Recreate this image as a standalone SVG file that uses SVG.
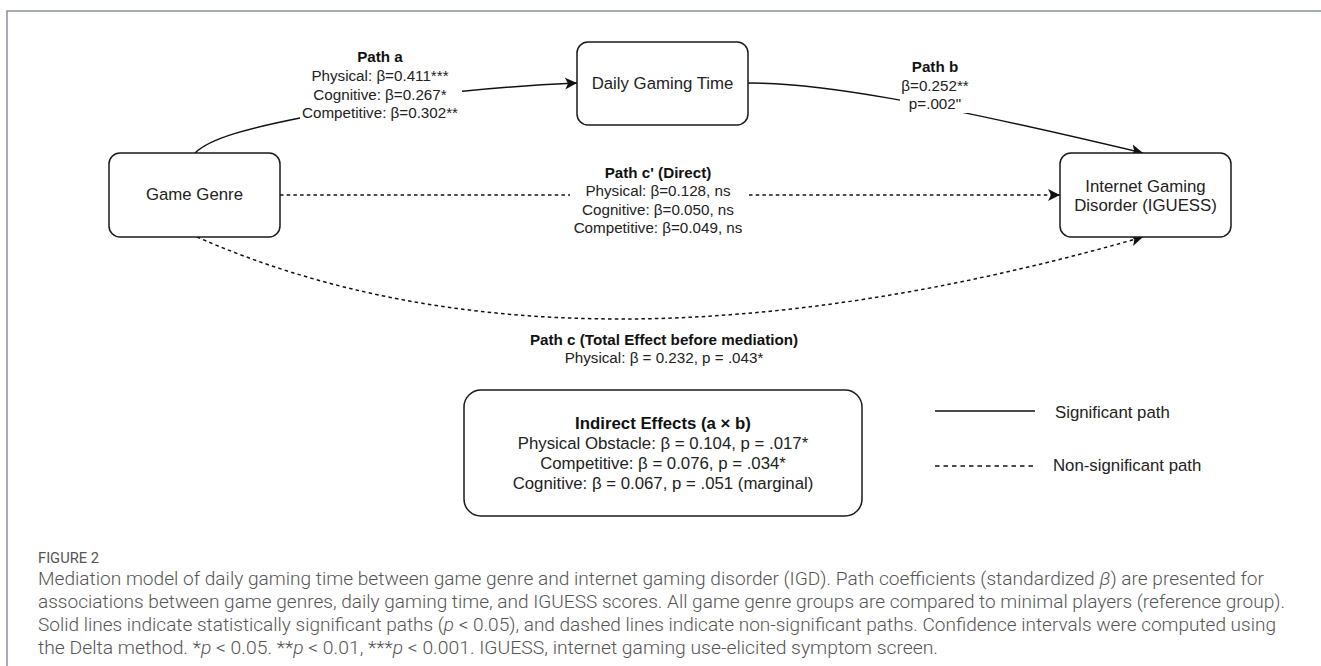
<svg xmlns="http://www.w3.org/2000/svg" width="1321" height="666" viewBox="0 0 1321 666">
<defs>
<style>
.frame{fill:none;stroke:#8a909a;stroke-width:1.5}
.box{fill:#fff;stroke:#1a1a1a;stroke-width:1.5}
.nt{font-family:"Liberation Sans",Arial,sans-serif;font-size:16.8px;fill:#222;text-anchor:middle}
.lt{font-family:"Liberation Sans",Arial,sans-serif;font-size:15.2px;fill:#222;text-anchor:middle}
.b{font-weight:bold;fill:#111}
.edge{fill:none;stroke:#111;stroke-width:1.5}
.dash{stroke-dasharray:3.5 3.2}
.ldash{stroke-dasharray:4.5 4}
.bg{fill:#fff}
.cap{font-family:Roboto,"Liberation Sans",sans-serif;font-weight:300;font-size:18.5px;fill:#555}
.fig{font-family:Roboto,"Liberation Sans",sans-serif;font-weight:400;font-size:14px;fill:#555}
.it{font-style:italic}
</style>
<marker id="arr" markerUnits="userSpaceOnUse" markerWidth="14" markerHeight="14" viewBox="0 0 14 14" refX="12" refY="7" orient="auto">
<path d="M0,1 L12,7 L0,13 L3,7 Z" fill="#111" stroke="none"/>
</marker>
</defs>
<rect x="0" y="0" width="1321" height="666" fill="#fff"/>
<rect class="frame" x="7" y="11" width="1340" height="700"/>

<g id="connectors">
<path id="path-a" class="edge" d="M195,153 C210,138 250,128 300,118 S420,90 577,83" marker-end="url(#arr)"/>
<path id="path-b" class="edge" d="M748,83 C820,83 920,100 1143,153" marker-end="url(#arr)"/>
<path id="path-cprime" class="edge dash" d="M280,195 L1060,195" marker-end="url(#arr)"/>
<path id="path-c" class="edge dash" d="M197,237 Q570,401 1143,237" marker-end="url(#arr)"/>
<rect class="bg" x="300" y="47" width="162" height="74"/>
<text class="lt"><tspan class="b" x="380" y="62">Path a</tspan><tspan x="380" y="81">Physical: β=0.411***</tspan><tspan x="380" y="99.5">Cognitive: β=0.267*</tspan><tspan x="380" y="118">Competitive: β=0.302**</tspan></text>
<rect class="bg" x="900" y="57" width="69" height="56"/>
<text class="lt"><tspan class="b" x="935" y="72">Path b</tspan><tspan x="935" y="91">β=0.252**</tspan><tspan x="935" y="109">p=.002"</tspan></text>
<rect class="bg" x="570" y="162" width="178" height="76"/>
<text class="lt"><tspan class="b" x="658" y="177.5">Path c' (Direct)</tspan><tspan x="658" y="196">Physical: β=0.128, ns</tspan><tspan x="658" y="214.5">Cognitive: β=0.050, ns</tspan><tspan x="658" y="233">Competitive: β=0.049, ns</tspan></text>
<text class="lt"><tspan class="b" x="664" y="345">Path c (Total Effect before mediation)</tspan><tspan x="664" y="363">Physical: β = 0.232, p = .043*</tspan></text>
</g>

<g id="node-game-genre">
<rect class="box" x="109" y="153" width="171" height="84" rx="11"/>
<text class="nt" x="194.5" y="200">Game Genre</text>
</g>
<g id="node-daily-gaming-time">
<rect class="box" x="577" y="42" width="171" height="83" rx="11"/>
<text class="nt" x="662.5" y="89">Daily Gaming Time</text>
</g>
<g id="node-igd">
<rect class="box" x="1060" y="153" width="171" height="84" rx="11"/>
<text class="nt"><tspan x="1145.5" y="192">Internet Gaming</tspan><tspan x="1145.5" y="211">Disorder (IGUESS)</tspan></text>
</g>
<g id="node-indirect">
<rect class="box" x="464" y="390" width="398" height="126" rx="17"/>
<text class="nt"><tspan class="b" x="663" y="429">Indirect Effects (a × b)</tspan><tspan x="663" y="449">Physical Obstacle: β = 0.104, p = .017*</tspan><tspan x="663" y="469">Competitive: β = 0.076, p = .034*</tspan><tspan x="663" y="489">Cognitive: β = 0.067, p = .051 (marginal)</tspan></text>
</g>
<g id="legend">
<line class="edge" x1="935" y1="411" x2="1035" y2="411"/>
<text class="nt" x="1055" y="418" style="text-anchor:start">Significant path</text>
<line class="edge ldash" x1="935" y1="466" x2="1033" y2="466"/>
<text class="nt" x="1053" y="471" style="text-anchor:start">Non-significant path</text>
</g>

<g id="caption">
<text class="fig" x="38" y="563" textLength="61" lengthAdjust="spacingAndGlyphs">FIGURE 2</text>
<text class="cap" x="38" y="585" textLength="1226" lengthAdjust="spacingAndGlyphs">Mediation model of daily gaming time between game genre and internet gaming disorder (IGD). Path coefficients (standardized <tspan class="it">β</tspan>) are presented for</text>
<text class="cap" x="38" y="608" textLength="1247" lengthAdjust="spacingAndGlyphs">associations between game genres, daily gaming time, and IGUESS scores. All game genre groups are compared to minimal players (reference group).</text>
<text class="cap" x="38" y="631" textLength="1238" lengthAdjust="spacingAndGlyphs">Solid lines indicate statistically significant paths (<tspan class="it">p</tspan> &lt; 0.05), and dashed lines indicate non-significant paths. Confidence intervals were computed using</text>
<text class="cap" x="38" y="654" textLength="900" lengthAdjust="spacingAndGlyphs">the Delta method. *<tspan class="it">p</tspan> &lt; 0.05. **<tspan class="it">p</tspan> &lt; 0.01, ***<tspan class="it">p</tspan> &lt; 0.001. IGUESS, internet gaming use-elicited symptom screen.</text>
</g>
</svg>
